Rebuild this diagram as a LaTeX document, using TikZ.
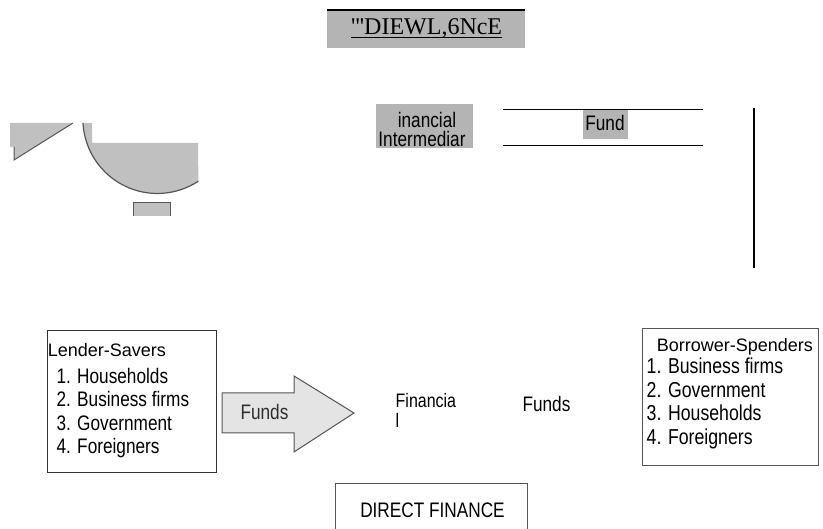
\documentclass[tikz,border=0pt]{standalone}
\usepackage{fontspec}
\setmainfont{Liberation Sans}
\newfontfamily\narrowf[FakeStretch=0.82]{Liberation Sans}
\newfontfamily\titlef{Liberation Serif}
\definecolor{boxgray}{RGB}{180,180,180}
\definecolor{shapegray}{RGB}{192,192,192}
\definecolor{arrowgray}{RGB}{228,228,228}
\definecolor{edge}{RGB}{50,50,50}
\definecolor{softedge}{RGB}{85,85,85}
\begin{document}
\begin{tikzpicture}[x=1pt,y=-1pt,
  txt/.style={inner sep=0pt, font=\narrowf\fontsize{21}{24}\selectfont},
  btxt/.style={inner sep=0pt, font=\narrowf\fontsize{21.6}{24}\selectfont},
  head/.style={inner sep=0pt, font=\fontsize{18}{20}\selectfont},
  graybox/.style={fill=boxgray, inner sep=0pt, anchor=north west},
  listbox/.style={draw=edge, line width=1.3pt, inner sep=0pt, anchor=north west},
  thin/.style={line width=1pt, draw=black}]
\useasboundingbox (0,0) rectangle (823,529);
\fill[white] (0,0) rectangle (823,529);

% title
\node[graybox, minimum width=198pt, minimum height=38pt] (titlebox) at (327,10) {};
\draw[line width=1.5pt] (titlebox.north west) -- (titlebox.north east);
\node[inner sep=0pt, anchor=base, font=\titlef\fontsize{24}{28}\selectfont] (title) at (426.7,35) {\char"27\relax\char"27\relax\char"27\relax DIEWL,6NcE};
\draw[line width=0.9pt] ([yshift=-2.5pt]title.base west) -- ([yshift=-2.5pt]title.base east);

% left fragments
\fill[shapegray] (10,123) -- (73,123) -- (14,160) -- (14,147) -- (10,147) -- cycle;
\draw[softedge, line width=1pt] (73,123) -- (14,160) -- (14,147);
\fill[shapegray] (83,123) arc[start angle=176.9, end angle=56.6, radius=74.5] -- (198,143) -- (92,143) -- (92,123) -- cycle;
\draw[softedge, line width=1.2pt] (83,123) arc[start angle=176.9, end angle=56.6, radius=74.5];
\fill[shapegray] (133,203) rectangle (170,216);
\draw[softedge, line width=1pt] (133,216) -- (133,203) -- (170,203) -- (170,216);

% financial intermediaries fragment
\node[graybox, minimum width=97pt, minimum height=44pt] (ifbox) at (376,104) {};
\node[txt, anchor=base] (fi1) at (427,127.7) {inancial};
\node[txt, anchor=base] (fi2) at (422,146.7) {Intermediar};

% funds fragment with lines
\node[graybox, minimum width=45pt, minimum height=30pt] (fundbox) at (583,109) {};
\node[txt, anchor=base] (fund) at (605,130.7) {Fund};
\coordinate (ua) at (503,109.5);
\coordinate (ub) at (703,109.5);
\coordinate (la) at (503,146);
\coordinate (lb) at (703,146);
\draw[thin] (ua) -- (ub);
\draw[thin] (la) -- (lb);
\coordinate (va) at (754,108);
\coordinate (vb) at (754,268);
\draw[line width=1.2pt] (va) -- (vb);

% lender-savers
\node[listbox, minimum width=169pt, minimum height=142pt] (lender) at (47,330) {};
\node[head, anchor=base west] (lh) at (47.6,356.7) {Lender-Savers};
\node[txt, anchor=base west] (l1) at (56.3,384) {1. Households};
\node[txt, anchor=base west] (l2) at (56.3,407) {2. Business firms};
\node[txt, anchor=base west] (l3) at (56.3,430.5) {3. Government};
\node[txt, anchor=base west] (l4) at (56.3,454) {4. Foreigners};

% funds arrow
\draw[fill=arrowgray, draw=softedge, line width=1pt]
  (222,393) -- (294,393) -- (294,376) -- (354,413) -- (294,452) -- (294,433) -- (222,433) -- cycle;
\node[txt, anchor=base, text=black!82] (af) at (264.5,420) {Funds};

% middle texts
\node[inner sep=0pt, anchor=base west, font=\narrowf\fontsize{19.5}{20}\selectfont] (fin1) at (395.5,408) {Financia};
\node[inner sep=0pt, anchor=base west, font=\narrowf\fontsize{19.5}{20}\selectfont] (fin2) at (395.5,428) {l};
\node[txt, anchor=base] (mf) at (546.5,412) {Funds};

% borrower-spenders
\node[listbox, draw=softedge, minimum width=176pt, minimum height=137pt] (borrower) at (642,328) {};
\node[head, anchor=base west] (bh) at (656.6,351.7) {Borrower-Spenders};
\node[btxt, anchor=base west] (b1) at (646.5,374) {1. Business firms};
\node[btxt, anchor=base west] (b2) at (646.5,397.5) {2. Government};
\node[btxt, anchor=base west] (b3) at (646.5,421) {3. Households};
\node[btxt, anchor=base west] (b4) at (646.5,444.5) {4. Foreigners};

% direct finance
\node[listbox, draw=softedge, line width=1.2pt, minimum width=192pt, minimum height=70pt] (df) at (335,483) {};
\node[txt, anchor=base] (dft) at (432.5,518) {DIRECT FINANCE};
\end{tikzpicture}
\end{document}
